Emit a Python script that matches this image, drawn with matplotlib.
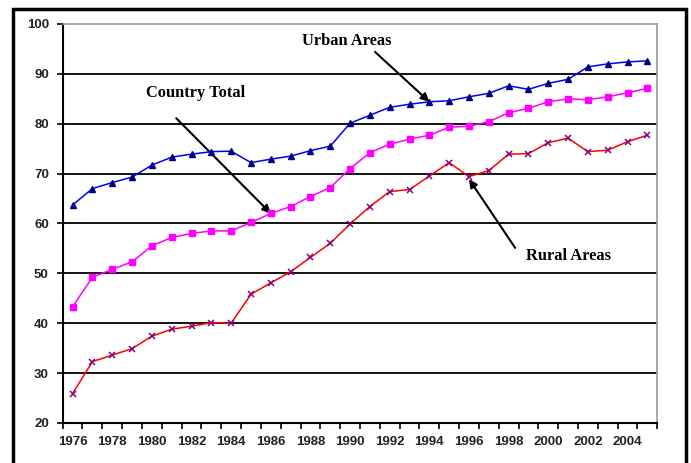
import matplotlib
matplotlib.use("Agg")
import matplotlib.pyplot as plt
from matplotlib.patches import Rectangle

years = list(range(1976, 2006))
urban = [63.7, 67.0, 68.2, 69.3, 71.7, 73.3, 73.9, 74.4, 74.5, 72.2,
         72.9, 73.5, 74.6, 75.5, 80.1, 81.7, 83.3, 83.9, 84.4, 84.6,
         85.4, 86.1, 87.6, 86.9, 88.1, 88.9, 91.4, 92.0, 92.4, 92.6]
country = [43.3, 49.2, 50.8, 52.3, 55.5, 57.2, 58.0, 58.5, 58.5, 60.2,
           62.0, 63.4, 65.4, 67.2, 71.0, 74.2, 75.9, 76.9, 77.7, 79.3,
           79.5, 80.4, 82.2, 83.1, 84.4, 85.0, 84.8, 85.4, 86.2, 87.1]
rural = [25.9, 32.3, 33.6, 34.9, 37.4, 38.8, 39.4, 40.1, 40.0, 45.8,
         48.1, 50.3, 53.2, 56.0, 59.9, 63.4, 66.4, 66.8, 69.5, 72.2,
         69.4, 70.6, 73.9, 74.0, 76.2, 77.1, 74.4, 74.7, 76.4, 77.7]
yticks = [20, 30, 40, 50, 60, 70, 80, 90, 100]
xlabels = [str(y) for y in years[::2]]

fig = plt.figure(figsize=(6.91, 4.63), dpi=100)
ax = fig.add_axes([0.0907, 0.0865, 0.8605, 0.8617])

x = list(range(len(years)))
ax.plot(x, urban, color="#0000ff", lw=1.1, marker="^", markersize=4.8,
        markerfacecolor="#000080", markeredgecolor="#000080", zorder=4)
ax.plot(x, country, color="#ff00ff", lw=1.1, marker="s", markersize=5,
        markerfacecolor="#ff00ff", markeredgecolor="#ff00ff", zorder=4)
ax.plot(x, rural, color="#ff0000", lw=1.1, marker="x", markersize=4.5,
        markeredgewidth=1.1, markeredgecolor="#800080", zorder=4)

ax.set_xlim(-0.5, len(years) - 0.5)
ax.set_ylim(20, 100)
ax.set_yticks(yticks)
ax.set_yticklabels([str(v) for v in yticks])
for v in yticks[1:-1]:
    ax.axhline(v, color="black", lw=1.3, zorder=1)

ax.set_xticks([i - 0.5 for i in range(len(years) + 1)])
ax.set_xticklabels([])
ax.set_xticks(list(range(0, len(years), 2)), minor=True)
ax.set_xticklabels(xlabels, minor=True)
ax.tick_params(axis="x", which="major", direction="out", length=4.5, width=1.2)
ax.tick_params(axis="x", which="minor", length=0, pad=9.5)
ax.tick_params(axis="y", direction="out", length=4.5, width=1.2, pad=5.5)
for lab in ax.get_xticklabels(minor=True) + ax.get_yticklabels():
    lab.set_fontfamily("Liberation Sans")
    lab.set_fontweight("bold")
    lab.set_fontsize(9.5)
    lab.set_color("#222222")

for s in ["left", "bottom"]:
    ax.spines[s].set_color("black")
    ax.spines[s].set_linewidth(1.5)
for s in ["top", "right"]:
    ax.spines[s].set_color("#9a9a9a")
    ax.spines[s].set_linewidth(1.2)

afont = dict(family="Liberation Serif", weight="bold", size=11.8, color="black")
ap = dict(arrowstyle="-|>", color="black", lw=1.5, mutation_scale=12,
          shrinkA=0, shrinkB=0)

ax.text(6.23, 86.2, "Country Total", ha="center", va="center", **afont)
ax.annotate("", xy=(10, country[10]), xytext=(5.23, 81.1), arrowprops=ap)

ax.text(13.83, 96.6, "Urban Areas", ha="center", va="center", **afont)
ax.annotate("", xy=(18, urban[18]), xytext=(15.26, 94.4), arrowprops=ap)

ax.text(25.0, 53.5, "Rural Areas", ha="center", va="center", **afont)
ax.annotate("", xy=(20, rural[20] - 0.5), xytext=(22.33, 55.1), arrowprops=ap)

frame = Rectangle((13 / 691, -0.05), (686 - 13) / 691, 1 - 9 / 463 + 0.05,
                  transform=fig.transFigure, fill=False, lw=2.5,
                  edgecolor="black", clip_on=False)
fig.patches.append(frame)

fig.savefig("out.png", dpi=100)
